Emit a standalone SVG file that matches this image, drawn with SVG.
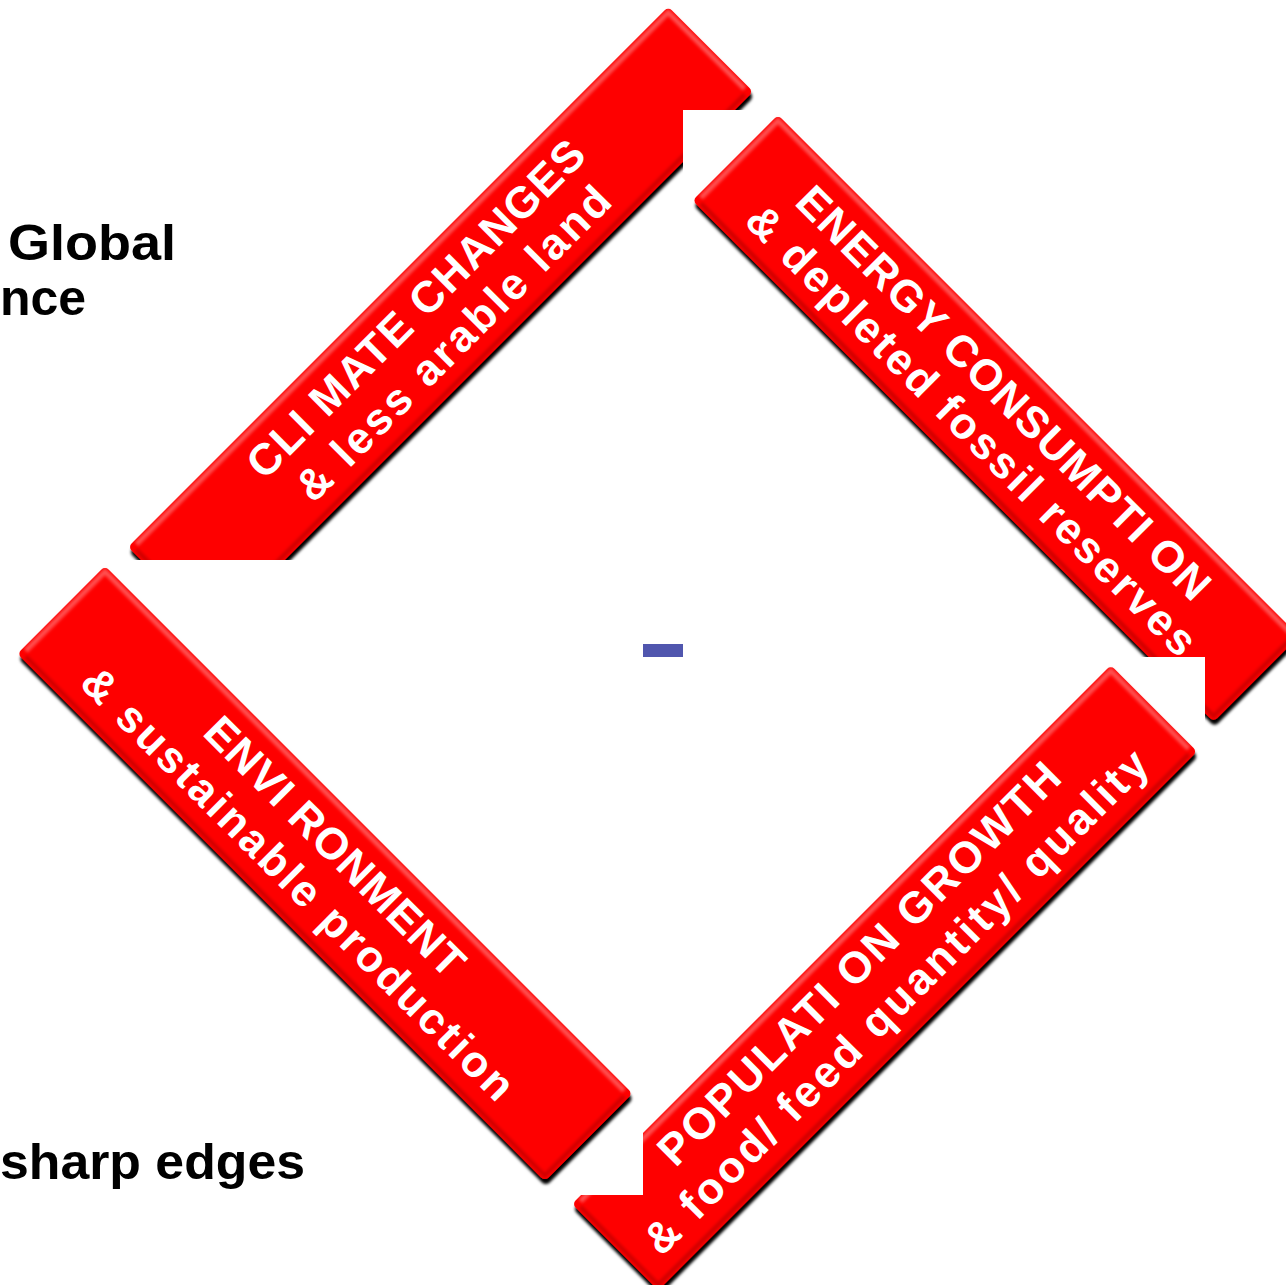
<svg xmlns="http://www.w3.org/2000/svg" width="1286" height="1285" viewBox="0 0 1286 1285">
<defs>
<filter id="sh" x="-10%" y="-10%" width="120%" height="120%">
<feGaussianBlur in="SourceAlpha" stdDeviation="1.6"/>
<feOffset dx="1" dy="5" result="s"/>
<feMerge><feMergeNode in="s"/><feMergeNode in="SourceGraphic"/></feMerge>
</filter>
<filter id="soft" x="-5%" y="-5%" width="110%" height="110%"><feGaussianBlur stdDeviation="1.5"/></filter>
</defs>
<style>
.bg{fill:#fff}
.band{fill:#fe0000}
.hi{fill:none;stroke:#ffa0a0;stroke-width:5;opacity:.5;filter:url(#soft)}
.lo{fill:none;stroke:#a80000;stroke-width:4;opacity:.55;filter:url(#soft)}
.t{font-family:"Liberation Sans",Arial,sans-serif;font-weight:bold;fill:#fff;font-size:44px;text-anchor:middle}
.side{font-family:"Liberation Sans",Arial,sans-serif;font-weight:bold;fill:#000;font-size:50px}
</style>
<rect width="1286" height="1285" fill="#fff"/>

<g id="climate">
<g filter="url(#sh)"><rect class="band" transform="translate(128,547) rotate(-45)" x="0" y="0" width="764" height="120" rx="5"/></g>
<g transform="translate(128,547) rotate(-45)">
<polyline class="hi" points="8,4 760,4 760,112"/>
<polyline class="lo" points="4,8 4,116 756,116"/>
<text class="t" x="372" y="50" textLength="458" lengthAdjust="spacing">CLI MATE CHANGES</text>
<text class="t" x="374" y="101" textLength="425" lengthAdjust="spacing">&amp; less arable land</text>
</g>
</g>

<g id="energy">
<rect class="bg" x="683" y="110" width="620" height="625"/>
<g filter="url(#sh)"><rect class="band" transform="translate(778,115) rotate(45)" x="0" y="0" width="737" height="121" rx="5"/></g>
<g transform="translate(778,115) rotate(45)">
<polyline class="hi" points="4,113 4,4 729,4"/>
<polyline class="lo" points="733,8 733,117 8,117"/>
<text class="t" x="356" y="52" textLength="565" lengthAdjust="spacing">ENERGY CONSUMPTI ON</text>
<text class="t" x="360" y="101" textLength="617" lengthAdjust="spacing">&amp; depleted fossil reserves</text>
</g>
</g>

<g id="population">
<rect class="bg" x="560" y="657" width="645" height="640"/>
<g filter="url(#sh)"><rect class="band" transform="translate(572,1204) rotate(-45)" x="0" y="0" width="762" height="122" rx="5"/></g>
<g transform="translate(572,1204) rotate(-45)">
<polyline class="hi" points="8,4 758,4 758,114"/>
<polyline class="lo" points="4,8 4,118 754,118"/>
<text class="t" x="373" y="48" textLength="549" lengthAdjust="spacing">POPULATI ON GROWTH</text>
<text class="t" x="372" y="101" textLength="693" lengthAdjust="spacing">&amp; food/ feed quantity/ quality</text>
</g>
</g>

<g id="environment">
<rect class="bg" x="-5" y="560" width="648" height="635"/>
<g filter="url(#sh)"><rect class="band" transform="translate(105,566) rotate(45)" x="0" y="0" width="746" height="124" rx="5"/></g>
<g transform="translate(105,566) rotate(45)">
<polyline class="hi" points="4,116 4,4 738,4"/>
<polyline class="lo" points="742,8 742,120 8,120"/>
<text class="t" x="361" y="51" textLength="348" lengthAdjust="spacing">ENVI RONMENT</text>
<text class="t" x="361" y="103" textLength="592" lengthAdjust="spacing">&amp; sustainable production</text>
</g>
</g>

<g id="connectors"></g>

<g id="labels">
<text class="side" x="8" y="260" textLength="168" lengthAdjust="spacingAndGlyphs">Global</text>
<text class="side" x="0" y="315">nce</text>
<text class="side" x="0" y="1179" textLength="305" lengthAdjust="spacingAndGlyphs">sharp edges</text>
</g>
<rect id="center-mark" x="643" y="644" width="40" height="13" fill="#5056ae"/>
</svg>
